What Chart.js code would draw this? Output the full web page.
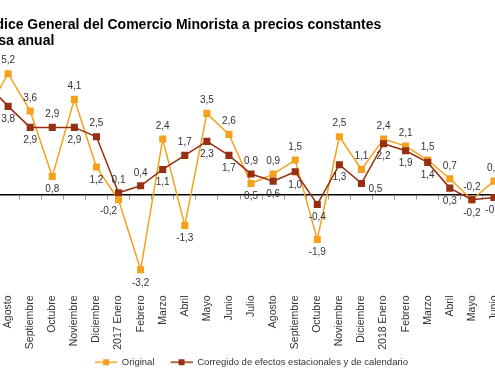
<!DOCTYPE html>
<html>
<head>
<meta charset="utf-8">
<script src="https://cdn.jsdelivr.net/npm/chart.js@4"></script>
<style>
  html, body { margin: 0; padding: 0; background: #fff; overflow: hidden; }
  body { width: 495px; height: 387px; position: relative; font-family: 'Liberation Sans', Arial, sans-serif; }
  #title { position: absolute; left: -17px; top: 16px; z-index: 2; font-size: 14px; line-height: 16px; font-weight: bold; color: #000; white-space: nowrap; }
  #wrap { position: absolute; left: -30px; top: 0; width: 553px; height: 387px; }
</style>
</head>
<body>
<div id="title">Índice General del Comercio Minorista a precios constantes<br>Tasa anual</div>
<div id="wrap"><canvas id="chart"></canvas></div>
<script>
// Julio 2016 .. Junio 2018 (the first month sits just off the left edge)
var months = ['Julio', 'Agosto', 'Septiembre', 'Octubre', 'Noviembre', 'Diciembre',
  '2017 Enero', 'Febrero', 'Marzo', 'Abril', 'Mayo', 'Junio', 'Julio', 'Agosto',
  'Septiembre', 'Octubre', 'Noviembre', 'Diciembre', '2018 Enero', 'Febrero',
  'Marzo', 'Abril', 'Mayo', 'Junio'];

var original = [3.5, 5.2, 3.6, 0.8, 4.1, 1.2, -0.2, -3.2, 2.4, -1.3, 3.5, 2.6,
  0.5, 0.9, 1.5, -1.9, 2.5, 1.1, 2.4, 2.1, 1.5, 0.7, -0.2, 0.6];

var corregido = [4.8, 3.8, 2.9, 2.9, 2.9, 2.5, 0.1, 0.4, 1.1, 1.7, 2.3, 1.7,
  0.9, 0.6, 1.0, -0.4, 1.3, 0.5, 2.2, 1.9, 1.4, 0.3, -0.2, -0.1];

// where each value label goes: a = above, b = below, bl = below left, br = below right
var originalPlaces = ['b', 'a', 'a', 'b', 'a', 'b', 'bl', 'b', 'a', 'b', 'a', 'a',
  'b', 'a', 'a', 'b', 'a', 'a', 'a', 'a', 'a', 'a', 'a', 'a'];
var corregidoPlaces = ['a', 'b', 'b', 'a', 'b', 'a', 'a', 'a', 'b', 'a', 'b', 'b',
  'a', 'b', 'b', 'b', 'b', 'br', 'b', 'b', 'b', 'b', 'b', 'b'];

var ORANGE = '#F5A11C';
var DARK = '#963010';
var FONT = "'Liberation Sans', Arial, sans-serif";

function fmt(v) { return v.toFixed(1).replace('.', ','); }

// legend swatch: short line with a square marker, some blank room on the left
function legendIcon(color) {
  var c = document.createElement('canvas');
  c.width = 32; c.height = 8;
  var g = c.getContext('2d');
  g.strokeStyle = color;
  g.lineWidth = 1.5;
  g.beginPath(); g.moveTo(10, 4); g.lineTo(32, 4); g.stroke();
  g.fillStyle = color;
  g.fillRect(18, 1, 6, 6);
  return c;
}

var icons = [legendIcon(ORANGE), legendIcon(DARK)];

var valueLabels = {
  id: 'valueLabels',
  afterDatasetsDraw: function (chart) {
    var ctx = chart.ctx;
    var places = [originalPlaces, corregidoPlaces];
    ctx.save();
    ctx.font = '10px ' + FONT;
    ctx.fillStyle = '#333';
    ctx.textAlign = 'center';
    ctx.textBaseline = 'middle';
    chart.data.datasets.forEach(function (ds, di) {
      var meta = chart.getDatasetMeta(di);
      meta.data.forEach(function (pt, i) {
        var p = places[di][i];
        var dx = 0, dy = p === 'a' ? -13 : 13;
        if (p === 'bl') { dx = -10; dy = 11; }
        if (p === 'br') { dx = 14; dy = 6; }
        ctx.fillText(fmt(ds.data[i]), pt.x + dx, pt.y + dy);
      });
    });
    ctx.restore();
  }
};

new Chart(document.getElementById('chart'), {
  type: 'line',
  data: {
    labels: months,
    datasets: [{
      label: 'Original',
      data: original,
      borderColor: ORANGE,
      backgroundColor: ORANGE,
      borderWidth: 1.5,
      pointStyle: 'rect',
      pointRadius: 5,
      pointBorderWidth: 0,
      tension: 0,
      order: 2
    }, {
      label: 'Corregido de efectos estacionales y de calendario',
      data: corregido,
      borderColor: DARK,
      backgroundColor: DARK,
      borderWidth: 1.5,
      pointStyle: 'rect',
      pointRadius: 5,
      pointBorderWidth: 0,
      tension: 0,
      order: 1
    }]
  },
  options: {
    responsive: true,
    maintainAspectRatio: false,
    animation: false,
    devicePixelRatio: 1,
    layout: { padding: { top: 55, right: 0, left: 0, bottom: 10 } },
    plugins: {
      title: { display: false },
      tooltip: { enabled: false },
      legend: {
        position: 'bottom',
        labels: {
          font: { size: 9.5, family: FONT },
          color: '#333',
          usePointStyle: true,
          pointStyleWidth: 32,
          padding: 6,
          sort: function (a, b) { return a.datasetIndex - b.datasetIndex; },
          generateLabels: function (chart) {
            var items = Chart.defaults.plugins.legend.labels.generateLabels(chart);
            items.forEach(function (it) { it.pointStyle = icons[it.datasetIndex]; });
            return items;
          }
        }
      }
    },
    scales: {
      x: {
        position: 'bottom',
        offset: true,
        grid: { display: false, drawTicks: false },
        border: { display: false },
        ticks: {
          autoSkip: false,
          minRotation: 90,
          maxRotation: 90,
          padding: 7,
          color: '#333',
          font: { size: 10.5, family: FONT }
        },
        afterFit: function (s) { s.height = 63; }
      },
      // zero line with the small marks between months
      x0: {
        type: 'category',
        position: { y: 0 },
        offset: true,
        grid: { display: true, drawOnChartArea: false, drawTicks: true, tickLength: 4, color: '#999', offset: true },
        border: { display: true, color: '#000', width: 1.5 },
        ticks: { display: false }
      },
      y: {
        position: 'right',
        min: -4,
        max: 6,
        grid: { display: false, drawTicks: false },
        border: { display: false },
        ticks: { display: false },
        afterFit: function (s) { s.width = 18; }
      }
    }
  },
  plugins: [valueLabels]
});
</script>
</body>
</html>
